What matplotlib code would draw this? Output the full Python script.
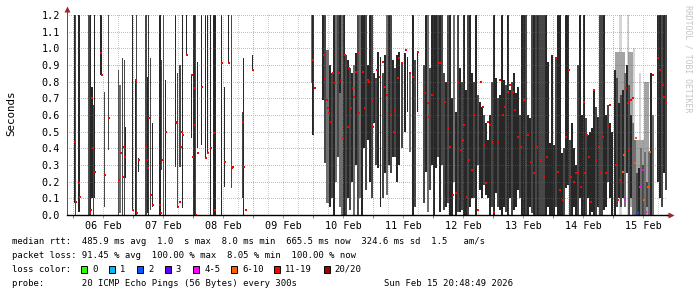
import matplotlib
matplotlib.use("Agg")
import matplotlib.pyplot as plt
from matplotlib.patches import Rectangle
import numpy as np

# ---------------- data ----------------
# time axis: hours since 06 Feb 2026 00:00
day_labels = ["06 Feb", "07 Feb", "08 Feb", "09 Feb", "10 Feb",
              "11 Feb", "12 Feb", "13 Feb", "14 Feb", "15 Feb"]
y_ticks = [0.0, 0.1, 0.2, 0.3, 0.4, 0.5, 0.6, 0.7, 0.8, 0.9, 1.0, 1.1, 1.2]

# smoke (spread of the 20 pings per step): start hour, duration (h), low (s), high (s), density level
smoke_hour = [0.4, 0.8, 2.0, 6.0, 6.8, 7.2, 8.0, 8.4, 10.8, 12.4, 14.0, 18.0, 18.4, 19.6, 20.4, 20.8,
              23.6, 24.8, 25.2, 26.0, 28.8, 29.6, 30.0, 30.8, 31.6, 34.4, 35.2, 36.0, 36.8, 40.8,
              41.6, 42.4, 43.6, 45.2, 47.2, 48.0, 48.8, 49.6, 51.2, 52.8, 53.6, 54.8, 56.0, 59.2,
              60.4, 62.0, 63.2, 67.6, 68.0, 71.6,
              95.6, 95.2, 99.6, 100.4, 101.2, 102.4, 103.2, 104.0, 104.8, 105.6, 106.4, 106.4, 107.2,
              108.0, 108.8, 109.6, 110.4, 111.2, 112.0, 112.8, 113.6, 114.4, 115.2, 116.0, 116.8,
              117.6, 118.4, 119.2, 120.0, 120.8, 121.6, 122.8, 123.6, 124.4, 125.2, 126.0, 126.8,
              127.6, 128.4, 129.2, 130.0, 131.2, 132.4, 133.6, 134.4, 135.6, 136.4, 137.6, 140.0,
              140.8, 141.6, 142.4, 143.2, 144.0, 144.8, 145.6, 146.4, 147.2, 148.0, 148.8, 149.6,
              150.4, 151.2, 152.0, 152.8, 153.6, 154.4, 155.2, 156.0, 156.8, 157.6, 158.4, 159.2,
              160.0, 160.8, 161.6, 162.4, 163.2, 164.0, 164.8, 165.6, 166.4, 167.2, 168.0, 168.8,
              169.6, 170.4, 171.2, 172.0, 172.8, 173.6, 174.4, 175.2, 176.0, 176.8, 177.6, 178.4,
              179.2, 180.0, 180.8, 181.6, 182.4, 183.2, 184.0, 184.8, 185.6, 186.4, 187.2, 188.0,
              188.8, 189.6, 190.4, 191.2, 192.0, 192.8, 193.6, 194.4, 195.2, 196.0, 196.8, 197.6,
              198.4, 199.2, 200.0, 200.8, 201.6, 202.4, 203.2, 204.0, 204.8, 205.6, 206.4, 207.2,
              208.0, 208.8, 209.6, 210.4, 211.2, 212.0, 212.8, 213.6, 214.4, 215.2,
              218.4, 221.6, 224.0, 226.4, 216.8, 222.0, 224.8, 228.4,
              216.4, 217.2, 218.0, 218.8, 219.6, 220.4, 221.2, 222.0, 222.8, 223.6, 224.4, 225.2,
              226.0, 226.8, 227.6, 228.4, 229.2, 230.0, 230.8, 231.6, 233.6, 234.4, 235.2, 236.0,
              236.8]
smoke_dur = [0.4, 0.4, 0.8, 0.8, 0.4, 0.8, 0.4, 0.4, 0.8, 0.4, 0.4, 0.4, 0.8, 0.4, 0.4, 0.4,
             0.4, 0.4, 0.4, 0.4, 0.8, 0.4, 0.4, 0.4, 0.4, 0.8, 0.4, 0.4, 0.4, 0.4,
             0.4, 0.8, 0.4, 0.4, 0.4, 0.8, 0.4, 0.4, 0.4, 0.4, 0.4, 0.4, 1.2, 0.4,
             0.4, 0.4, 0.4, 0.4, 0.4, 0.4,
             0.8, 0.4, 0.8, 0.8, 1.2, 0.8, 0.8, 0.8, 0.8, 0.8, 0.8, 0.8, 0.8,
             0.8, 0.8, 0.8, 0.8, 0.8, 0.8, 0.8, 0.8, 0.8, 0.8, 0.8, 0.8,
             0.8, 0.8, 0.8, 0.8, 0.8, 0.8, 0.4, 0.8, 0.8, 0.8, 0.8, 0.8,
             0.8, 0.8, 0.8, 0.8, 0.8, 0.8, 0.4, 0.8, 0.8, 0.8, 0.4, 0.8,
             0.8, 0.8, 0.8, 0.8, 0.8, 0.8, 0.8, 0.8, 0.8, 0.8, 0.8, 0.8,
             0.8, 0.8, 0.8, 0.8, 0.8, 0.8, 0.8, 0.8, 0.8, 0.8, 0.8, 0.8,
             0.8, 0.8, 0.8, 0.8, 0.8, 0.8, 0.8, 0.8, 0.8, 0.8, 0.8, 0.8,
             0.8, 0.8, 0.8, 0.8, 0.8, 0.8, 0.8, 0.8, 0.8, 0.8, 0.8, 0.8,
             0.8, 0.8, 0.8, 0.8, 0.8, 0.8, 0.8, 0.8, 0.8, 0.8, 0.8, 0.8,
             0.8, 0.8, 0.8, 0.8, 0.8, 0.8, 0.8, 0.8, 0.8, 0.8, 0.8, 0.8,
             0.8, 0.8, 0.8, 0.8, 0.8, 0.8, 0.8, 0.8, 0.8, 0.8, 0.8, 0.8,
             0.8, 0.8, 0.8, 0.8, 0.8, 0.8, 0.8, 0.8, 0.8, 0.8,
             1.2, 0.8, 0.8, 0.8, 4.0, 2.0, 5.6, 2.0,
             0.8, 0.8, 0.8, 0.8, 0.8, 0.8, 0.8, 0.8, 0.8, 0.8, 0.8, 0.8,
             0.8, 0.8, 0.8, 0.8, 0.8, 0.8, 0.8, 0.8, 0.8, 0.8, 0.8, 0.8,
             0.8]
smoke_low = [0.07, 0.00, 0.02, 0.00, 0.00, 0.10, 0.00, 0.10, 0.84, 0.05, 0.39, 0.00, 0.01, 0.00, 0.00, 0.22,
             0.03, 0.00, 0.00, 0.26, 0.00, 0.01, 0.00, 0.03, 0.05, 0.00, 0.27, 0.00, 0.00, 0.29,
             0.05, 0.29, 0.04, 0.96, 0.46, 0.00, 0.00, 0.40, 0.42, 0.34, 0.37, 0.00, 0.00, 0.00,
             0.17, 0.91, 0.16, 0.10, 0.00, 0.87,
             0.48, 0.79, 0.69, 0.31, 0.07, 0.05, 0.10, 0.00, 0.20, 0.35, 0.73, 0.05, 0.00,
             0.00, 0.00, 0.10, 0.03, 0.20, 0.00, 0.30, 0.00, 0.10, 0.00, 0.40, 0.15,
             0.45, 0.20, 0.10, 0.55, 0.30, 0.28, 0.05, 0.10, 0.25, 0.12, 0.30, 0.25,
             0.35, 0.35, 0.20, 0.30, 0.40, 0.50, 0.62, 0.38, 0.00, 0.05, 0.62, 0.07,
             0.26, 0.02, 0.15, 0.30, 0.00, 0.28, 0.35, 0.02, 0.30, 0.03, 0.05, 0.07,
             0.00, 0.00, 0.20, 0.00, 0.02, 0.02, 0.03, 0.00, 0.00, 0.00, 0.05, 0.10,
             0.10, 0.00, 0.30, 0.15, 0.10, 0.18, 0.12, 0.10, 0.00, 0.05, 0.00, 0.13,
             0.05, 0.03, 0.00, 0.05, 0.02, 0.00, 0.10, 0.00, 0.03, 0.05, 0.15, 0.10,
             0.00, 0.00, 0.00, 0.00, 0.05, 0.01, 0.00, 0.00, 0.00, 0.00, 0.00, 0.00,
             0.00, 0.05, 0.00, 0.00, 0.00, 0.05, 0.00, 0.00, 0.00, 0.00, 0.16, 0.18,
             0.00, 0.00, 0.05, 0.00, 0.00, 0.10, 0.00, 0.00, 0.00, 0.10, 0.00, 0.02,
             0.00, 0.00, 0.05, 0.00, 0.00, 0.03, 0.05, 0.20, 0.10, 0.00,
             0.00, 0.00, 0.00, 0.00, 0.10, 0.05, 0.00, 0.00,
             0.00, 0.05, 0.10, 0.05, 0.10, 0.05, 0.25, 0.00, 0.10, 0.00, 0.00, 0.00,
             0.00, 0.00, 0.00, 0.00, 0.05, 0.00, 0.00, 0.00, 0.20, 0.10, 0.05, 0.25,
             0.15]
smoke_high = [1.2, 1.2, 1.2, 1.2, 1.2, 0.77, 0.66, 1.2, 1.2, 0.74, 1.2, 0.87, 0.78, 0.94, 0.93, 0.53,
              1.2, 0.81, 1.2, 0.34, 1.2, 0.83, 1.2, 0.94, 0.55, 1.2, 0.93, 1.2, 0.81, 1.2,
              0.85, 0.90, 1.2, 1.2, 0.84, 1.2, 1.2, 0.92, 1.2, 1.2, 1.2, 1.2, 1.2, 1.2,
              0.77, 1.2, 1.2, 0.62, 0.94, 0.96,
              1.2, 1.2, 1.2, 1.2, 0.99, 0.90, 0.85, 1.2, 1.2, 1.2, 1.2, 0.90, 1.2,
              1.2, 0.96, 0.93, 0.88, 0.85, 0.90, 0.97, 1.2, 1.2, 1.2, 1.2, 1.2,
              0.90, 1.2, 1.2, 0.85, 0.82, 0.98, 0.95, 0.85, 0.96, 1.2, 1.2, 1.2,
              0.93, 0.88, 0.96, 0.98, 0.92, 0.97, 0.95, 0.85, 1.2, 0.93, 0.97, 0.90,
              1.2, 1.2, 0.88, 1.2, 1.2, 1.2, 1.2, 1.2, 1.2, 0.85, 0.80, 1.2,
              1.2, 0.70, 1.2, 0.62, 1.2, 0.88, 0.80, 1.2, 0.75, 1.2, 1.2, 0.85,
              0.80, 1.2, 0.72, 0.68, 0.65, 0.60, 0.55, 0.45, 0.60, 0.80, 1.2, 0.82,
              0.70, 0.72, 1.2, 0.81, 0.78, 1.2, 0.75, 0.80, 0.85, 0.73, 0.77, 0.60,
              1.2, 1.2, 1.2, 0.60, 0.58, 1.2, 1.2, 1.2, 1.2, 1.2, 1.2, 1.2,
              1.2, 0.92, 0.43, 0.96, 0.42, 0.95, 1.2, 1.2, 0.37, 0.40, 1.2, 1.2,
              0.45, 0.55, 0.40, 0.30, 0.90, 1.2, 0.60, 1.2, 0.58, 0.48, 0.50, 0.52,
              0.75, 0.65, 0.59, 1.2, 1.2, 1.2, 0.60, 0.66, 0.55, 0.50,
              1.2, 1.2, 1.0, 0.85, 0.98, 0.98, 0.45, 0.80,
              0.87, 0.82, 0.67, 0.72, 0.75, 0.85, 0.90, 0.78, 0.60, 0.55, 0.45, 0.25,
              0.28, 0.40, 0.30, 0.38, 0.20, 0.38, 0.85, 0.60, 1.2, 1.2, 1.2, 1.2,
              1.2]
smoke_level = [0, 1, 0, 1, 0, 0, 1, 0, 0, 1, 1, 1, 2, 1, 1, 0,
               0, 0, 1, 0, 1, 0, 0, 1, 0, 0, 1, 1, 0, 0,
               1, 1, 0, 0, 0, 0, 1, 0, 0, 0, 0, 0, 0, 0,
               0, 0, 1, 1, 0, 0,
               0, 2, 0, 1, 2, 0, 1, 0, 2, 1, 0, 2, 2,
               0, 1, 0, 1, 0, 2, 0, 1, 2, 0, 0, 1,
               0, 0, 1, 0, 1, 0, 0, 1, 0, 2, 0, 1,
               0, 1, 0, 0, 1, 0, 0, 2, 0, 1, 0, 1,
               0, 2, 1, 0, 0, 0, 1, 0, 1, 1, 0, 1,
               0, 0, 2, 0, 1, 0, 1, 0, 0, 1, 0, 0,
               1, 0, 1, 0, 0, 1, 0, 0, 0, 1, 0, 0,
               1, 0, 0, 0, 1, 0, 0, 1, 0, 0, 0, 1,
               0, 0, 1, 0, 0, 1, 0, 1, 0, 1, 1, 1,
               0, 0, 0, 0, 0, 1, 0, 0, 0, 1, 0, 0,
               1, 0, 0, 0, 1, 0, 0, 0, 1, 0, 0, 0,
               0, 1, 0, 1, 1, 0, 0, 1, 0, 0,
               4, 4, 4, 4, 3, 3, 3, 3,
               0, 1, 0, 1, 0, 2, 0, 1, 0, 2, 2, 1,
               0, 2, 1, 2, 1, 2, 0, 2, 0, 0, 1, 0,
               1]

# median RTT per step with 11-19 of 20 pings lost
median_hour = [0.4, 0.8, 2.0, 2.4, 6.4, 6.8, 7.2, 7.6, 8.4, 10.8, 11.2, 12.4, 14.0, 18.0, 18.8, 19.6,
               20.0, 20.4, 23.6, 24.8, 25.2, 26.0, 28.8, 29.2, 29.6, 30.0, 30.8, 31.6, 34.4, 34.8,
               35.6, 36.8, 40.8, 41.2, 41.6, 42.4, 42.8, 43.2, 43.6, 45.2, 47.2, 47.6, 48.0, 48.4,
               48.8, 49.6, 51.2, 52.8, 53.6, 54.8, 56.0, 56.4, 59.2, 60.4, 62.0, 63.2, 63.6, 67.6,
               68.0, 68.8, 71.6,
               95.6, 96.4, 100.0, 100.4, 101.2, 101.6, 102.0, 102.8, 103.6, 104.4,
               106.0, 106.8, 107.6, 108.4, 109.6, 110.0, 110.8, 111.6, 112.0, 112.8,
               113.6, 114.0, 115.6, 116.4, 117.6, 118.0, 119.2, 119.6, 121.2, 122.4,
               123.6, 124.4, 125.2, 126.8, 128.0, 128.4, 129.6, 130.0, 131.2, 132.8,
               134.4, 135.6, 137.6, 140.4, 141.6, 142.0, 143.2, 145.6, 146.4, 148.4,
               149.6, 150.4, 151.6, 152.8, 153.6, 154.8, 155.6, 156.0, 157.2, 158.0,
               159.2, 160.0, 161.6, 162.8, 163.6, 164.0, 164.8, 165.6, 166.4, 167.2,
               168.0, 169.6, 170.4, 171.6, 172.4, 173.6, 174.4, 175.6, 176.4, 177.6,
               178.8, 180.0, 181.6, 182.8, 184.0, 185.2, 186.4, 188.0, 189.2, 192.8,
               193.6, 194.4, 195.6, 196.8, 198.0, 198.8, 200.0, 200.8, 201.6, 202.8,
               204.0, 204.4, 205.2, 206.0, 206.8, 208.0, 208.8, 210.0, 210.8, 211.6,
               212.8, 213.6, 214.4, 216.8, 217.6, 218.4, 220.8, 221.6, 222.0, 222.8,
               223.6, 231.6, 233.6, 234.4, 235.6, 236.0, 236.8]
median_sec = [0.44, 0.08, 0.19, 0.11, 0.01, 0.03, 0.70, 0.40, 0.26, 0.97, 0.84, 0.24, 0.58, 0.21, 0.37, 0.23,
              0.41, 0.35, 0.03, 0.81, 0.01, 0.33, 0.41, 0.33, 0.28, 0.58, 0.12, 0.06, 0.06, 0.01,
              0.33, 0.50, 0.56, 0.55, 0.05, 0.08, 0.41, 0.50, 0.48, 0.96, 0.84, 0.35, 0.76, 0.54,
              0.00, 0.37, 0.77, 0.34, 0.37, 0.40, 0.49, 0.03, 0.91, 0.32, 0.91, 0.28, 0.29, 0.56,
              0.29, 0.03, 0.87,
              0.93, 0.76, 0.96, 0.82, 0.69, 0.64, 0.61, 0.56, 0.85, 0.79,
              0.85, 0.81, 0.46, 0.96, 0.53, 0.88, 0.64, 0.76, 0.71, 0.86,
              0.98, 0.61, 0.86, 0.64, 0.81, 0.80, 0.69, 0.53, 0.87, 0.83,
              0.92, 0.77, 0.72, 0.60, 0.50, 0.63, 0.82, 0.94, 0.91, 0.99,
              0.85, 0.83, 0.98, 0.73, 0.67, 0.59, 0.72, 0.91, 0.91, 0.68,
              0.52, 0.41, 0.12, 0.13, 0.80, 0.39, 0.45, 0.54, 0.11, 0.33,
              0.27, 0.60, 0.03, 0.80, 0.65, 0.42, 0.19, 0.56, 0.54, 0.43,
              0.02, 0.44, 0.81, 0.60, 0.65, 0.74, 0.78, 0.74, 0.63, 0.47,
              0.41, 0.69, 0.48, 0.32, 0.25, 0.41, 0.33, 0.23, 0.35, 0.94,
              0.26, 0.15, 0.09, 0.47, 0.87, 0.23, 0.20, 0.25, 0.26, 0.17,
              0.68, 0.25, 0.48, 0.35, 0.08, 0.75, 0.33, 0.41, 0.25, 0.47,
              0.25, 0.53, 0.66, 0.30, 0.09, 0.21, 0.76, 0.67, 0.39, 0.69,
              0.70, 0.84, 0.94, 0.87, 0.78, 0.71, 0.67]

# medians with fewer lost pings (loss class index into loss_labels)
low_loss_hour = [219.6, 220.0, 220.4, 224.4, 224.8, 225.6, 226.4, 227.6, 228.0, 228.8, 229.6, 230.4]
low_loss_sec = [0.26, 0.36, 0.09, 0.31, 0.46, 0.01, 0.17, 0.27, 0.09, 0.02, 0.17, 0.38]
low_loss_class = [5, 5, 4, 5, 5, 2, 4, 4, 5, 4, 5, 5]

loss_labels = ["0", "1", "2", "3", "4-5", "6-10", "11-19", "20/20"]
loss_colors = ["#26ff00", "#00b8ff", "#0059ff", "#5e00ff", "#ff00ff", "#ff5e00", "#ff0000", "#a10000"]

stats_rtt = "median rtt:  485.9 ms avg  1.0  s max  8.0 ms min  665.5 ms now  324.6 ms sd  1.5   am/s"
stats_loss = "packet loss: 91.45 % avg  100.00 % max  8.05 % min  100.00 % now"
probe_text = "probe:       20 ICMP Echo Pings (56 Bytes) every 300s"
stamp_text = "Sun Feb 15 20:48:49 2026"

# ---------------- drawing ----------------
W, H = 697, 297
AX_L, AX_T, AX_W, AX_H = 67, 15, 600, 200   # plot canvas in pixels
X0, X1 = -2.4, 237.6
MONO = "DejaVu Sans Mono"
fig = plt.figure(figsize=(W / 100, H / 100), dpi=100, facecolor="white")
ax = fig.add_axes([AX_L / W, 1 - (AX_T + AX_H) / H, AX_W / W, AX_H / H])
ax.set_facecolor("white")

smoke_shades = {0: "#272727", 1: "#474747", 2: "#6f6f6f", 3: "#a4a4a4", 4: "#d6d6d6"}
for lvl in (4, 3, 2, 1, 0):
    idx = [i for i, l in enumerate(smoke_level) if l == lvl]
    ax.bar([smoke_hour[i] for i in idx],
           [smoke_high[i] - smoke_low[i] for i in idx],
           bottom=[smoke_low[i] for i in idx],
           width=[smoke_dur[i] for i in idx],
           align="edge", color=smoke_shades[lvl], linewidth=0,
           antialiased=False, zorder=1)

mh = 0.013
ax.bar(median_hour, [mh] * len(median_hour), bottom=[v - mh / 2 for v in median_sec],
       width=0.8, align="edge", color=loss_colors[6], linewidth=0, antialiased=False, zorder=3)
ax.bar(low_loss_hour, [mh] * len(low_loss_hour), bottom=[v - mh / 2 for v in low_loss_sec],
       width=0.8, align="edge", color=[loss_colors[c] for c in low_loss_class],
       linewidth=0, antialiased=False, zorder=3)

# pixel-exact dotted grid (1px on / 1px off), overlaid like rrdtool does
grid = np.zeros((AX_H, AX_W, 4))
pink = (1.0, 0.15, 0.15, 0.42)
grey = (0.5, 0.5, 0.5, 0.38)
for h in range(0, 240, 6):
    c = int(round((h - X0) / (X1 - X0) * AX_W))
    if 0 <= c < AX_W:
        grid[0::2, c] = pink if h % 24 == 0 else grey
for y in y_ticks[1:]:
    r = int(round((1.2 - y) / 1.2 * AX_H))
    if 0 <= r < AX_H:
        grid[r, 0::2] = pink
ax.imshow(grid, extent=(X0, X1, 0, 1.2), aspect="auto", interpolation="nearest",
          origin="upper", zorder=4)
ax.set_xlim(X0, X1)
ax.set_ylim(0, 1.2)

for s in ("top", "right"):
    ax.spines[s].set_visible(False)
ax.spines["left"].set_color("#555555")
ax.spines["left"].set_linewidth(0.72)
ax.spines["bottom"].set_color("black")
ax.spines["bottom"].set_linewidth(1.0)

ax.set_yticks(y_ticks)
ax.set_yticklabels(["%.1f" % v for v in y_ticks], fontfamily=MONO, fontsize=7.3)
ax.tick_params(axis="y", length=0, pad=5)
ax.set_xticks([12 + 24 * d for d in range(len(day_labels))])
ax.set_xticklabels(day_labels, fontfamily=MONO, fontsize=7.3)
ax.set_xticks([24 * d for d in range(10)], minor=True)
ax.tick_params(axis="x", which="major", length=2.0, width=0.7, color="#999999", pad=2.2)
ax.tick_params(axis="x", which="minor", length=2.2, width=0.7, color="#c06060")

# axis arrows
ax.plot([1.0, 1.006], [0, 0], transform=ax.transAxes, color="black", lw=1.0, clip_on=False)
ax.plot([1.006], [0], marker=">", ms=4.5, color="#9e2525", transform=ax.transAxes,
        clip_on=False, mec="none")
ax.plot([0, 0], [1.0, 1.02], transform=ax.transAxes, color="#555555", lw=0.72, clip_on=False)
ax.plot([0], [1.03], marker="^", ms=4.5, color="#9e2525", transform=ax.transAxes,
        clip_on=False, mec="none")

fig.text(11 / W, 1 - 113 / H, "Seconds", rotation=90, ha="center", va="center",
         fontfamily=MONO, fontsize=7.8)
fig.text(688 / W, 1 - 59 / H, "RRDTOOL / TOBI OETIKER", rotation=270, ha="center", va="center",
         fontfamily=MONO, fontsize=5.9, color="#c4c4c4")

fs = 6.4
x0 = 12.5 / W
fig.text(x0, 1 - 241 / H, stats_rtt, ha="left", va="center", fontfamily=MONO, fontsize=fs)
fig.text(x0, 1 - 255.5 / H, stats_loss, ha="left", va="center", fontfamily=MONO, fontsize=fs)
fig.text(x0, 1 - 269.5 / H, "loss color:", ha="left", va="center", fontfamily=MONO, fontsize=fs)
fig.text(x0, 1 - 284 / H, probe_text, ha="left", va="center", fontfamily=MONO, fontsize=fs)
fig.text(384.5 / W, 1 - 284 / H, stamp_text, ha="left", va="center", fontfamily=MONO, fontsize=fs)

legend_box_px = [81, 109, 137, 164.5, 193, 231, 274, 323.5]
for bx, lab, col in zip(legend_box_px, loss_labels, loss_colors):
    fig.add_artist(Rectangle((bx / W, 1 - 273.3 / H), 6.3 / W, 7.5 / H, transform=fig.transFigure,
                             facecolor=col, edgecolor="black", linewidth=0.7))
    fig.text((bx + 11.3) / W, 1 - 269.5 / H, lab, ha="left", va="center",
             fontfamily=MONO, fontsize=fs)

fig.savefig("out.png", dpi=100, facecolor="white")
